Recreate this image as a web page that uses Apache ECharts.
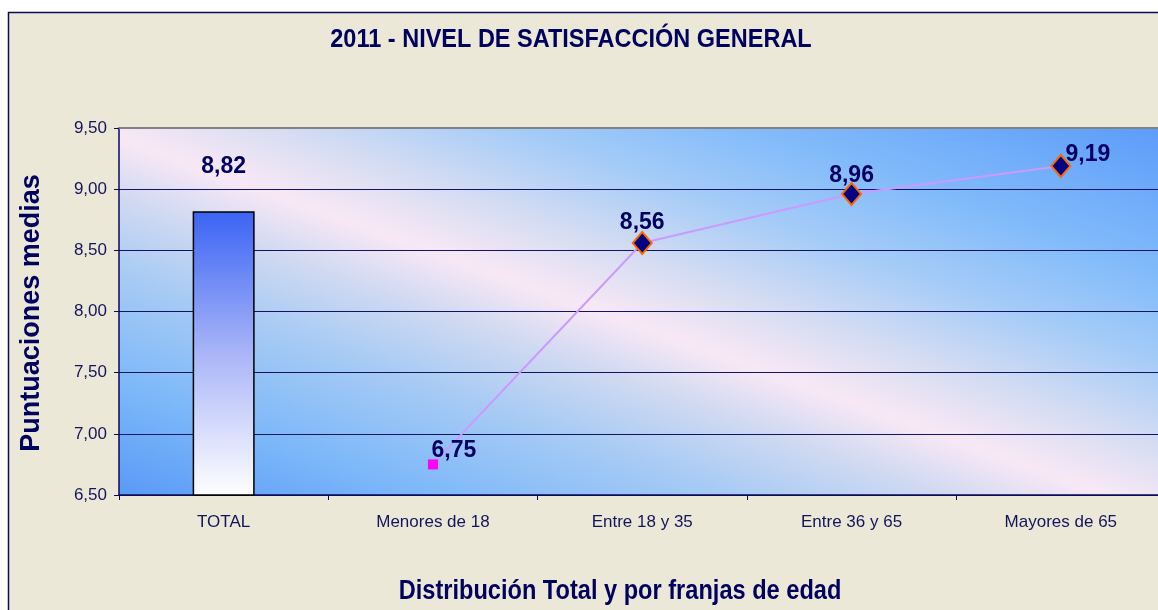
<!DOCTYPE html>
<html>
<head>
<meta charset="utf-8">
<title>2011 - Nivel de satisfacción general</title>
<script src="https://cdn.jsdelivr.net/npm/echarts@6/dist/echarts.min.js"></script>
<style>
  html, body { margin: 0; padding: 0; background: #ffffff; }
  #chart { width: 1158px; height: 610px; }
</style>
</head>
<body>
<div id="chart"></div>
<script>
// Categories along the x axis
const categories = ['TOTAL', 'Menores de 18', 'Entre 18 y 35', 'Entre 36 y 65', 'Mayores de 65'];
// Overall mean score (bar)
const totalScores = [8.82, null, null, null, null];
// Mean score by age band (line)
const ageScores = [null, 6.75, 8.56, 8.96, 9.19];
// Y axis range and step
const yMin = 6.5;
const yMax = 9.5;
const yStep = 0.5;

const titleText = '2011 - NIVEL DE SATISFACCIÓN GENERAL';
const yAxisTitle = 'Puntuaciones medias';
const xAxisTitle = 'Distribución Total y por franjas de edad';

const FONT = '"Liberation Sans", Arial, sans-serif';
const NAVY = '#000060';
const comma = v => Number(v).toFixed(2).replace('.', ',');

const chart = echarts.init(document.getElementById('chart'), null, { renderer: 'canvas' });

// Label placement for each point of the line
const lineLabelOffsets = [null, [21, 8], [0, 8], [0, 10], [27, 17]];

const lineData = ageScores.map((v, i) => {
  if (v === null) return null;
  const item = {
    value: v,
    label: { offset: lineLabelOffsets[i] }
  };
  if (i === 1) {
    item.symbol = 'rect';
    item.symbolSize = 10;
    item.itemStyle = { color: '#ff00ff', borderWidth: 0 };
  }
  return item;
});

const option = {
  backgroundColor: '#ffffff',
  animation: false,
  graphic: [
    {
      type: 'rect',
      z: -10,
      silent: true,
      shape: { x: 8.5, y: 12.5, width: 1200, height: 700 },
      style: { fill: '#ECE8D8', stroke: '#0a0a5a', lineWidth: 1.5 }
    },
    {
      type: 'text',
      x: 571, y: 40,
      scaleY: 1.13,
      style: {
        text: titleText, fill: NAVY, fontFamily: FONT, fontWeight: 'bold',
        fontSize: 23.5, align: 'center', verticalAlign: 'middle'
      }
    },
    {
      type: 'text',
      x: 32, y: 313,
      rotation: Math.PI / 2,
      style: {
        text: yAxisTitle, fill: NAVY, fontFamily: FONT, fontWeight: 'bold',
        fontSize: 27, align: 'center', verticalAlign: 'middle'
      }
    },
    {
      type: 'text',
      x: 620, y: 591,
      scaleY: 1.18,
      style: {
        text: xAxisTitle, fill: NAVY, fontFamily: FONT, fontWeight: 'bold',
        fontSize: 23.6, align: 'center', verticalAlign: 'middle'
      }
    }
  ],
  grid: {
    left: 119,
    top: 128,
    bottom: 115,
    width: 1046.5,
    containLabel: false,
    outerBoundsMode: 'none',
    show: true,
    borderWidth: 0,
    backgroundColor: new echarts.graphic.LinearGradient(447, 613, 684, -44, [
      { offset: 0.00, color: '#5a9af6' },
      { offset: 0.15, color: '#7db8f9' },
      { offset: 0.30, color: '#a8cbf4' },
      { offset: 0.40, color: '#d0d9f1' },
      { offset: 0.48, color: '#f8e8f6' },
      { offset: 0.56, color: '#dadef2' },
      { offset: 0.68, color: '#a6ccf7' },
      { offset: 0.80, color: '#82bbfa' },
      { offset: 1.00, color: '#5c9cfa' }
    ], true)
  },
  xAxis: [
    {
      type: 'category',
      data: categories,
      boundaryGap: true,
      axisLine: { lineStyle: { color: '#0a0a5a', width: 1.5 } },
      axisTick: { show: true, interval: 0, length: 5, lineStyle: { color: '#0a0a5a' } },
      axisLabel: { interval: 0, margin: 19, color: '#14145a', fontFamily: FONT, fontSize: 17 },
      splitLine: { show: false }
    },
    {
      type: 'category',
      position: 'top',
      data: categories,
      axisLine: { lineStyle: { color: '#828282', width: 2 } },
      axisTick: { show: false },
      axisLabel: { show: false },
      splitLine: { show: false }
    }
  ],
  yAxis: {
    type: 'value',
    min: yMin,
    max: yMax,
    interval: yStep,
    axisLine: { show: true, lineStyle: { color: '#0a0a5a', width: 1.5 } },
    axisTick: { show: true, length: 5, lineStyle: { color: '#0a0a5a' } },
    axisLabel: {
      margin: 12, color: '#14145a', fontFamily: FONT, fontSize: 17,
      formatter: v => comma(v)
    },
    splitLine: {
      show: true,
      lineStyle: { color: '#141460', width: 1.2 }
    }
  },
  series: [
    {
      type: 'bar',
      data: totalScores,
      barWidth: 62,
      itemStyle: {
        color: new echarts.graphic.LinearGradient(0, 0, 0, 1, [
          { offset: 0, color: '#3b64f4' },
          { offset: 0.5, color: '#a9b5f7' },
          { offset: 1, color: '#ffffff' }
        ]),
        borderColor: '#000000',
        borderWidth: 1.5
      },
      label: {
        show: true,
        position: 'top',
        offset: [0, -28],
        formatter: p => comma(p.value),
        color: NAVY, fontFamily: FONT, fontWeight: 'bold', fontSize: 23,
        textBorderWidth: 0
      }
    },
    {
      type: 'line',
      data: lineData,
      connectNulls: false,
      symbol: 'diamond',
      symbolSize: [19, 22],
      lineStyle: { color: '#cc99ff', width: 2 },
      itemStyle: { color: '#000080', borderColor: '#ff6600', borderWidth: 2 },
      label: {
        show: true,
        position: 'top',
        formatter: p => comma(p.value),
        color: NAVY, fontFamily: FONT, fontWeight: 'bold', fontSize: 23,
        textBorderWidth: 0
      },
      z: 3
    }
  ]
};

chart.setOption(option);
</script>
</body>
</html>
